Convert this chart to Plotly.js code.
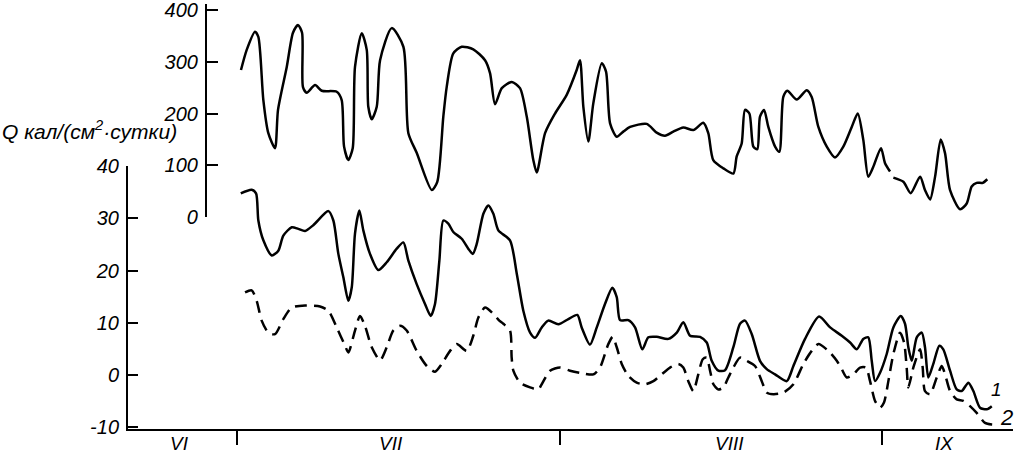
<!DOCTYPE html>
<html><head><meta charset="utf-8">
<script src="https://cdn.plot.ly/plotly-3.0.1.min.js"></script>
<style>html,body{margin:0;padding:0;background:#fff;}#chart{width:1015px;height:455px;}</style>
</head><body><div id="chart"></div>
<script>
// x = day counted from 1 June (1 July = 30, 1 Aug = 61, 1 Sep = 92)
const upperDays = [30.38,30.93,31.73,32.05,32.53,33.01,33.65,33.94,34.78,35.38,
35.86,36.25,36.34,36.70,37.50,38.14,39.58,40.06,40.29,40.70,
41.12,41.34,41.99,42.47,42.62,42.95,43.43,43.75,44.87,45.99,
46.47,47.27,48.72,49.25,49.83,50.16,50.79,51.60,52.71,53.84,
54.32,54.80,55.45,56.41,57.20,57.85,58.48,58.81,59.61,60.57,
61.69,62.65,62.97,63.29,63.77,64.25,65.06,65.47,65.86,66.50,
67.13,67.78,69.38,70.34,71.14,71.94,72.90,73.86,74.82,75.30,
75.78,76.75,77.71,78.03,78.51,78.83,79.25,79.63,80.01,80.27,
80.66,81.07,81.72,82.13,82.51,82.90,83.80,84.76,85.24,85.88,
86.69,87.48,88.28,89.09,89.67,90.20,90.68,91.16,91.90,92.29,
92.77,92.93,93.09,94.05,94.76,95.66,96.13,96.62,97.10,97.64,
98.06,98.54,99.50,100.14,100.62,101.10,101.68,102.12];
const upperValues = [284,323,358,348,226,162,133,207,290,356,
371,356,251,240,255,244,242,226,136,110,
133,290,355,323,213,189,213,303,365,329,
162,124,52,68,194,252,316,329,324,303,
278,218,249,261,249,194,110,86,162,200,
236,284,303,213,146,220,297,281,181,155,
165,174,180,163,157,165,173,168,182,162,
110,94,84,117,142,207,200,136,131,194,
207,174,136,126,232,244,227,245,232,174,
136,115,136,174,200,149,78,97,133,104,
88,null,76,68,46,78,52,34,78,150,
123,52,15,26,59,66,66,73];

const curve1Days = [30.36,31.41,31.83,32.05,32.53,33.34,33.97,34.45,35.26,35.89,
36.54,37.33,38.78,39.26,39.74,40.22,40.70,41.03,41.34,41.76,
42.14,42.78,43.58,44.39,45.35,45.99,46.47,47.27,48.07,48.62,
49.03,49.45,49.83,50.31,50.79,51.60,52.23,52.66,53.04,53.68,
54.16,54.64,55.12,56.24,56.89,57.52,58.17,58.65,59.29,59.92,
60.89,61.85,62.71,63.13,63.93,64.58,65.37,66.08,66.50,66.82,
67.62,68.26,68.96,69.54,70.34,71.46,72.27,72.90,73.55,74.51,
75.15,75.63,76.27,76.91,77.71,78.35,78.83,79.48,80.27,80.92,
81.72,82.84,83.48,84.60,85.95,87.01,88.13,88.93,89.57,90.20,
90.68,91.01,91.33,91.81,92.45,93.09,93.80,94.21,94.53,94.86,
95.34,95.82,96.13,96.45,96.93,97.51,97.89,98.54,99.18,99.66,
100.30,100.78,101.42,102.07,102.55];
const curve1Values = [34.8,35.5,34.8,29.6,25.8,22.9,23.8,26.7,28.3,28.0,
27.6,28.7,31.4,29.6,23.2,18.7,14.2,16.8,27.1,31.5,
27.7,23.2,20.1,21.6,24.2,25.4,21.9,17.4,13.6,11.3,
13.6,21.9,29.6,29.0,27.4,26.1,24.2,23.2,25.1,30.9,
32.5,30.9,27.7,25.8,19.4,12.3,8.1,7.1,9.1,10.4,
9.7,10.7,11.5,9.1,5.8,9.1,13.6,16.7,14.9,10.5,
10.5,9.1,4.9,7.2,7.3,6.9,8.1,10.1,7.5,7.3,
6.2,2.7,0.8,0.9,5.3,9.8,10.4,7.8,2.7,1.1,
0.1,-1.2,1.7,6.9,11.2,9.1,7.5,6.2,4.9,6.9,
7.2,2.7,-1.2,0.4,4.0,9.1,11.3,9.8,5.3,2.7,
7.2,8.1,5.3,-0.5,2.1,5.6,4.9,0.8,-2.8,-3.1,
-1.5,-3.1,-6.3,-6.6,-6.0];

const curve2Days = [30.77,31.41,31.89,32.37,33.01,33.65,34.45,35.26,36.54,37.98,
38.78,39.58,40.38,40.70,41.34,41.82,42.30,42.95,43.75,44.39,
45.02,45.67,46.31,47.27,48.24,49.03,49.68,50.48,51.12,52.08,
52.71,53.20,53.84,54.64,55.21,55.60,56.24,56.40,56.56,57.20,
58.17,58.96,59.29,60.09,61.05,62.01,62.97,64.25,64.89,65.69,
66.11,66.50,66.98,67.62,68.42,69.22,70.02,70.82,71.62,72.42,
72.90,73.38,73.86,74.34,74.77,75.15,75.47,75.79,76.27,76.75,
77.23,77.71,78.35,79.00,79.79,80.44,80.92,81.56,82.52,83.48,
84.44,85.24,85.88,86.84,87.65,88.13,88.61,89.24,89.89,90.46,
90.85,91.33,91.81,92.19,92.61,93.09,93.73,94.12,94.37,94.53,
95.01,95.66,95.91,96.13,96.62,97.26,97.74,98.06,98.54,99.18,
99.82,100.46,101.10,101.90,102.55,103.18];
const curve2Values = [15.8,16.2,14.2,10.4,8.1,7.8,10.7,12.9,13.3,13.1,
12.3,9.1,5.6,4.3,8.5,11.3,9.4,5.3,2.8,5.3,
8.5,9.4,8.5,4.6,1.7,0.6,2.1,4.6,5.9,4.6,
7.5,11.0,12.9,11.7,10.4,9.8,8.5,3.3,0.8,-1.5,
-2.4,-2.8,-1.8,0.8,1.4,0.8,0.4,0.1,1.4,5.9,
7.3,5.3,2.1,-0.2,-1.5,-1.8,-1.2,0.1,1.4,2.1,
1.4,-1.2,-3.1,0.1,3.0,3.3,0.8,-1.8,-2.8,-2.4,
-0.5,1.4,3.3,2.7,1.7,-1.2,-3.4,-3.7,-3.4,-1.8,
2.1,4.6,5.9,4.6,2.7,1.1,-0.5,0.1,1.4,1.4,
-1.2,-5.0,-6.3,-5.3,-1.2,4.0,8.1,6.2,1.4,-2.4,
1.4,4.9,1.4,-3.1,-3.7,-0.5,1.7,0.1,-3.1,-4.7,
-5.0,-6.0,-7.3,-9.2,-9.5,-9.5];

const monthStarts = [30, 61, 92];
const monthLabelPos = [24.5, 44.8, 77.3, 98.0];
const monthLabels = ['VI', 'VII', 'VIII', 'IX'];
const lowerTicks = [-10, 0, 10, 20, 30, 40];
const lowerTickLabels = ['-10', '0', '10', '20', '30', '40'];
const upperTicks = [0, 100, 200, 300, 400];
const upperTickLabels = ['0', '100', '200', '300', '400'];

const FONT = 'Liberation Sans, Arial, sans-serif';
const tickFont = {family: FONT, size: 20, color: '#000', style: 'italic'};
const lineStyle = {color: '#000', width: 2.5, shape: 'spline', smoothing: 0.7};

const traces = [
  {x: upperDays, y: upperValues, yaxis: 'y2', type: 'scatter', mode: 'lines',
   line: lineStyle, connectgaps: false, hoverinfo: 'skip'},
  {x: curve1Days, y: curve1Values, yaxis: 'y', type: 'scatter', mode: 'lines',
   line: lineStyle, hoverinfo: 'skip'},
  {x: curve2Days, y: curve2Values, yaxis: 'y', type: 'scatter', mode: 'lines',
   line: Object.assign({}, lineStyle, {dash: '12px,7px'}), hoverinfo: 'skip'}
];

const monthAnnotations = monthLabels.map((m, i) => ({
  xref: 'x', yref: 'paper', x: monthLabelPos[i], y: -0.034,
  xanchor: 'center', yanchor: 'middle', text: m, showarrow: false,
  font: {family: FONT, size: 19, color: '#000', style: 'italic'}
}));

const layout = {
  width: 1015, height: 455,
  margin: {l: 128, r: 2, t: 4, b: 26},
  paper_bgcolor: '#fff', plot_bgcolor: 'rgba(0,0,0,0)',
  showlegend: false,
  xaxis: {
    range: [19.52, 104.59], anchor: 'y',
    showline: true, linewidth: 2, linecolor: '#000',
    showgrid: false, zeroline: false,
    tickmode: 'array', tickvals: monthStarts,
    ticks: 'outside', ticklen: 14, tickwidth: 2, tickcolor: '#000',
    showticklabels: false
  },
  yaxis: {
    domain: [0, 0.6188], range: [-10.38, 40.05],
    tickmode: 'array', tickvals: lowerTicks, ticktext: lowerTickLabels,
    ticks: 'inside', ticklen: 10, tickwidth: 2, tickcolor: '#000',
    showline: true, linewidth: 2, linecolor: '#000', ticklabeloverflow: 'allow',
    showgrid: false, zeroline: false, tickfont: tickFont, ticklabelstandoff: 3
  },
  yaxis2: {
    domain: [0.4988, 1], range: [0, 411.6],
    anchor: 'free', position: 0.0881, side: 'left',
    tickmode: 'array', tickvals: upperTicks, ticktext: upperTickLabels,
    ticks: 'inside', ticklen: 11, tickwidth: 2, tickcolor: '#000',
    showline: true, linewidth: 2, linecolor: '#000', ticklabeloverflow: 'allow',
    showgrid: false, zeroline: false, tickfont: tickFont, ticklabelstandoff: 3
  },
  annotations: monthAnnotations.concat([
    {xref: 'paper', yref: 'paper', x: -0.1446, y: 0.704, xanchor: 'left', yanchor: 'middle',
     text: 'Q кал/(см<sup>2</sup>·сутки)', showarrow: false,
     font: {family: FONT, size: 21, color: '#000', style: 'italic'}},
    {xref: 'paper', yref: 'paper', x: 0.981, y: 0.094, xanchor: 'center', yanchor: 'middle',
     text: '1', showarrow: false, font: {family: FONT, size: 19, color: '#000', style: 'italic'}},
    {xref: 'paper', yref: 'paper', x: 0.993, y: 0.026, xanchor: 'center', yanchor: 'middle',
     text: '2', showarrow: false, font: {family: FONT, size: 22, color: '#000', style: 'italic'}}
  ])
};

Plotly.newPlot('chart', traces, layout, {staticPlot: true, displayModeBar: false});
</script></body></html>
